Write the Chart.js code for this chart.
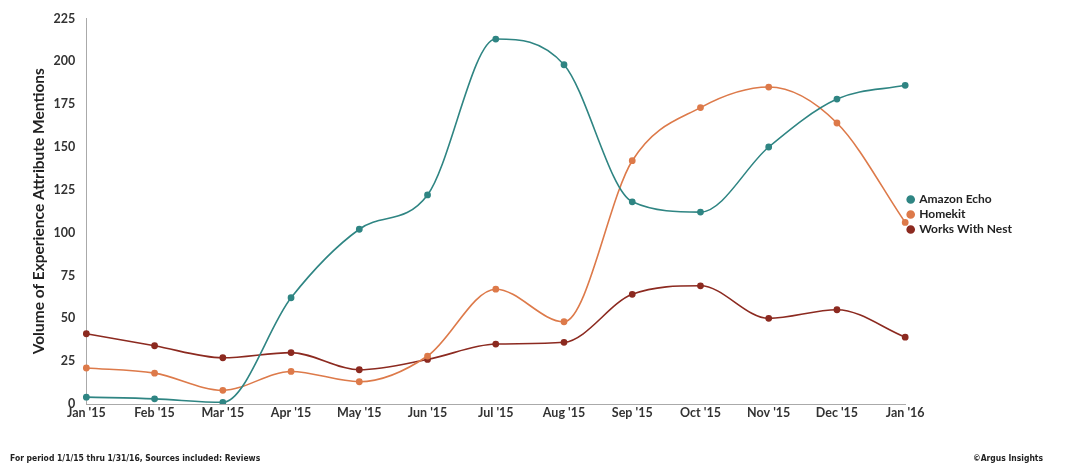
<!DOCTYPE html>
<html>
<head>
<meta charset="utf-8">
<script src="https://cdn.jsdelivr.net/npm/chart.js@4"></script>
<style>
  body { margin: 0; background: #fff; }
  #wrap { position: relative; width: 1068px; height: 465px; }
  .note { position: absolute; font-family: "Liberation Sans Narrow", "DejaVu Sans Condensed", sans-serif; font-size: 8.5px; font-weight: bold; color: #222; }
</style>
</head>
<body>
<div id="wrap">
  <canvas id="trendChart" width="1068" height="465"></canvas>
  <div class="note" style="left:10px; top:453px;">For period 1/1/15 thru 1/31/16, Sources included: Reviews</div>
  <div class="note" style="left:973px; top:453px;">©Argus Insights</div>
</div>
<script>
// Months on the x axis
const months = ["Jan '15", "Feb '15", "Mar '15", "Apr '15", "May '15", "Jun '15", "Jul '15",
                "Aug '15", "Sep '15", "Oct '15", "Nov '15", "Dec '15", "Jan '16"];

// Mentions per month
const amazonEcho = [4, 3, 1, 62, 102, 122, 213, 198, 118, 112, 150, 178, 186];
const homekit = [21, 18, 8, 19, 13, 28, 67, 48, 142, 173, 185, 164, 106];
const worksWithNest = [41, 34, 27, 30, 20, 26, 35, 36, 64, 69, 50, 55, 39];

const yTicks = [0, 25, 50, 75, 100, 125, 150, 175, 200, 225];

function series(label, data, color) {
    return {
        label: label,
        data: data,
        borderColor: color,
        backgroundColor: color,
        borderWidth: 1.6,
        pointRadius: 2.6,
        pointHoverRadius: 2.6,
        cubicInterpolationMode: 'monotone',
        fill: false
    };
}

const ctx = document.getElementById('trendChart').getContext('2d');
const trendChart = new Chart(ctx, {
    type: 'line',
    data: {
        labels: months,
        datasets: [
            series('Amazon Echo', amazonEcho, '#2f8583'),
            series('Homekit', homekit, '#dd7a4a'),
            series('Works With Nest', worksWithNest, '#8c2a20')
        ]
    },
    options: {
        responsive: false,
        animation: false,
        layout: {
            padding: { left: 30, right: 46, top: 8, bottom: 44 }
        },
        scales: {
            x: {
                offset: false,
                grid: { display: false, drawTicks: false },
                border: { color: '#aaa', width: 1 },
                ticks: {
                    color: '#333',
                    font: { family: 'Lato', size: 12.5, weight: 'bold' },
                    padding: 1,
                    maxRotation: 0,
                    autoSkip: false
                }
            },
            y: {
                min: 0,
                max: 225,
                afterBuildTicks: function(axis) {
                    axis.ticks = yTicks.map(v => ({ value: v }));
                },
                grid: { display: false, drawTicks: false },
                border: { color: '#aaa', width: 1 },
                ticks: {
                    color: '#333',
                    font: { family: 'Lato', size: 12.5, weight: 'bold' },
                    padding: 11
                },
                title: {
                    display: true,
                    text: 'Volume of Experience Attribute Mentions',
                    color: '#222',
                    font: { family: 'Lato', size: 15.5, weight: 'bold' },
                    padding: { top: 0, bottom: -6 }
                }
            }
        },
        plugins: {
            legend: {
                position: 'right',
                labels: {
                    usePointStyle: true,
                    pointStyle: 'circle',
                    boxWidth: 5,
                    boxHeight: 5,
                    padding: 3,
                    color: '#222',
                    font: { family: 'Lato', size: 12, weight: 'bold' }
                }
            },
            tooltip: { enabled: false }
        }
    }
});
</script>
</body>
</html>
